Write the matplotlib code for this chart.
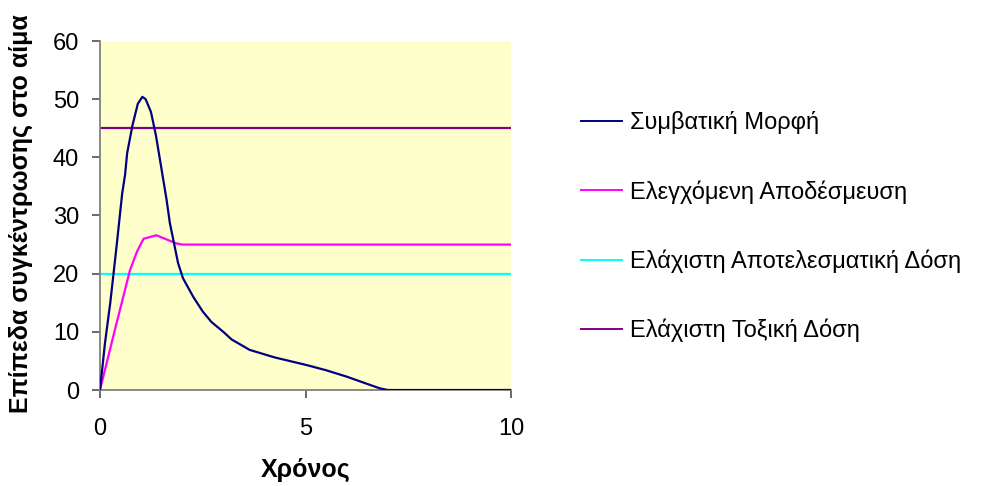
import matplotlib
matplotlib.use("Agg")
import matplotlib.pyplot as plt

plt.rcParams['font.family'] = ['Liberation Sans', 'DejaVu Sans']

# Conventional form: plasma level over time
conv_t = [0, 0.12, 0.25, 0.40, 0.54, 0.61, 0.66, 0.79, 0.92, 1.03, 1.11, 1.24,
          1.36, 1.48, 1.62, 1.70, 1.90, 2.02, 2.27, 2.50, 2.71, 3.00, 3.20,
          3.64, 4.25, 5.02, 5.50, 6.00, 6.40, 6.80, 7.00, 8.0, 9.0, 10.0]
conv_c = [0, 8.0, 15.0, 24.5, 33.8, 37.0, 40.7, 45.5, 49.2, 50.4, 50.0, 47.8,
          43.8, 38.7, 32.7, 28.7, 21.8, 19.2, 16.0, 13.5, 11.7, 10.0, 8.7,
          6.9, 5.6, 4.3, 3.4, 2.3, 1.3, 0.3, 0, 0, 0, 0]

# Controlled release: plasma level over time
ctrl_t = [0, 0.35, 0.73, 0.90, 1.06, 1.37, 1.86, 2.0, 10.0]
ctrl_c = [0, 10.0, 20.6, 23.8, 26.0, 26.6, 25.2, 25.0, 25.0]

# Threshold levels
min_effective = 20
min_toxic = 45

labels = ["Συμβατική Μορφή", "Ελεγχόμενη Αποδέσμευση",
          "Ελάχιστη Αποτελεσματική Δόση", "Ελάχιστη Τοξική Δόση"]
colors = ["#000080", "#FF00FF", "#00FFFF", "#800080"]

fig = plt.figure(figsize=(9.82, 4.86), dpi=100)
ax = fig.add_axes([100 / 982, 96 / 486, 411 / 982, 349 / 486])
ax.set_facecolor("#FFFFCC")

ax.plot(conv_t, conv_c, color=colors[0], lw=1.6, label=labels[0], zorder=4)
ax.plot(ctrl_t, ctrl_c, color=colors[1], lw=1.6, label=labels[1], zorder=3)
ax.plot([0, 10], [min_effective, min_effective], color=colors[2], lw=1.6,
        label=labels[2], zorder=2)
ax.plot([0, 10], [min_toxic, min_toxic], color=colors[3], lw=1.6,
        label=labels[3], zorder=2)

ax.set_xlim(0, 10)
ax.set_ylim(0, 60)
ax.set_xticks([0, 5, 10])
ax.set_yticks(range(0, 61, 10))

for side in ("top", "right"):
    ax.spines[side].set_visible(False)
for side in ("left", "bottom"):
    ax.spines[side].set_color("#808080")
    ax.spines[side].set_linewidth(1.3)

ax.tick_params(axis="both", direction="out", length=6, width=1.2,
               color="#505050", labelsize=17, labelcolor="black")
ax.tick_params(axis="x", pad=14)
ax.tick_params(axis="y", pad=9)

ax.set_xlabel("Χρόνος", fontsize=18, fontweight="bold")
ax.set_ylabel("Επίπεδα συγκέντρωσης στο αίμα", fontsize=18,
              fontweight="bold")
ax.xaxis.set_label_coords(0.5, -0.195)
ax.yaxis.set_label_coords(-0.163, 0.505)

leg = fig.legend(loc="upper left", bbox_to_anchor=(560 / 982, 1 - 90 / 486),
                 frameon=False, fontsize=17, handlelength=1.74,
                 handletextpad=0.34, labelspacing=1.94)
for line in leg.get_lines():
    line.set_linewidth(1.4)

fig.savefig("out.png", dpi=100)
